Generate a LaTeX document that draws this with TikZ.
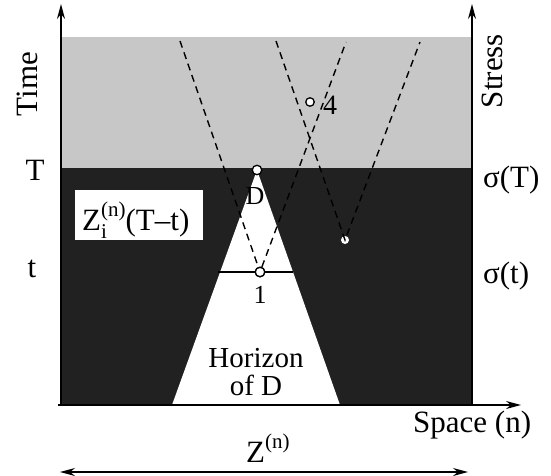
\documentclass[tikz,border=0pt]{standalone}
\usepackage{fontspec}
\setmainfont{Liberation Serif}
\usetikzlibrary{arrows.meta}
\newcommand{\mysup}[1]{\raisebox{0.42em}{\fontsize{21}{22}\selectfont #1}}
\newcommand{\mysub}[1]{\raisebox{-0.28em}{\fontsize{21}{22}\selectfont #1}}
\begin{document}
\begin{tikzpicture}[x=1pt,y=-1pt,
  lbl/.style={font=\fontsize{31}{34}\selectfont, inner sep=0pt},
  smalllbl/.style={font=\fontsize{26}{28}\selectfont, inner sep=0pt},
  axis/.style={line width=1.3pt, -{Stealth[length=15pt,width=8pt]}},
  cone/.style={dash pattern=on 7pt off 5pt, line width=1.4pt},
  pt/.style={circle, draw, fill=white, line width=1.3pt, minimum size=9.5pt, inner sep=0pt}]
\useasboundingbox (0,0) rectangle (551,476);
% regions
\fill[black!22] (62,37) rectangle (472,168);
\fill[black!87] (62,168) rectangle (472,405);
\fill[white] (257,170) -- (172,405) -- (340,405) -- cycle;
% event points
\node[pt] (D) at (257,170) {};
\node[pt] (P1) at (260,272) {};
\node[pt, minimum size=8.5pt] (P4) at (310,102) {};
\node[circle, fill=white, minimum size=8pt, inner sep=0pt] (P5) at (345,240) {};
% light cones
\coordinate (a1) at (180,41);
\coordinate (a2) at (346,42);
\coordinate (b1) at (276,41);
\coordinate (b2) at (420,42);
\draw[cone] (a1) -- (P1) -- (a2);
\draw[cone] (b1) -- (P5.center) -- (b2);
% time-t line
\coordinate (tl) at (218,272);
\coordinate (tr) at (293,272);
\draw[line width=2pt] (tl) -- (P1) -- (tr);
\node[pt] at (P1) {};
% box
\fill[white] (75,190) rectangle (203,240);
\node[lbl, anchor=base west] (zbox) at (82,230) {Z\rlap{\mysub{i}}\mysup{(n)}(T–t)};
% point labels
\node[smalllbl] (lD) at (255,196) {D};
\node[smalllbl] (l1) at (260,295) {1};
\node[smalllbl, font=\fontsize{28}{30}\selectfont] (l4) at (330,105) {4};
\node[lbl, font=\fontsize{29}{30}\selectfont, anchor=base] (hz) at (256,367) {Horizon};
\node[lbl, font=\fontsize{29}{30}\selectfont, anchor=base] (ofd) at (256,395) {of D};
% axes
\coordinate (o) at (61,405);
\coordinate (ytop) at (61,4);
\coordinate (r0) at (472,405);
\coordinate (rtop) at (472,4);
\coordinate (x0) at (58,405);
\coordinate (xend) at (521,405);
\draw[axis] (o) -- (ytop);
\draw[axis] (r0) -- (rtop);
\draw[axis] (x0) -- (xend);
% axis labels
\node[lbl, rotate=90] (time) at (27,84) {Time};
\node[lbl, rotate=90] (stress) at (492,71) {Stress};
\node[lbl, anchor=base] (T) at (35,180) {T};
\node[lbl, anchor=base] (t) at (32,277) {t};
\node[lbl, anchor=base west] (sT) at (483,187) {σ(T)};
\node[lbl, anchor=base west] (st) at (483,283) {σ(t)};
\node[lbl, anchor=base west] (space) at (413,432) {Space (n)};
\node[lbl, anchor=base west] (Zn) at (246,462) {Z\mysup{(n)}};
% extent arrow
\coordinate (zl) at (60,472);
\coordinate (zr) at (468,472);
\draw[line width=1.3pt, {Stealth[length=15pt,width=8pt]}-{Stealth[length=15pt,width=8pt]}] (zl) -- (zr);
\end{tikzpicture}
\end{document}
